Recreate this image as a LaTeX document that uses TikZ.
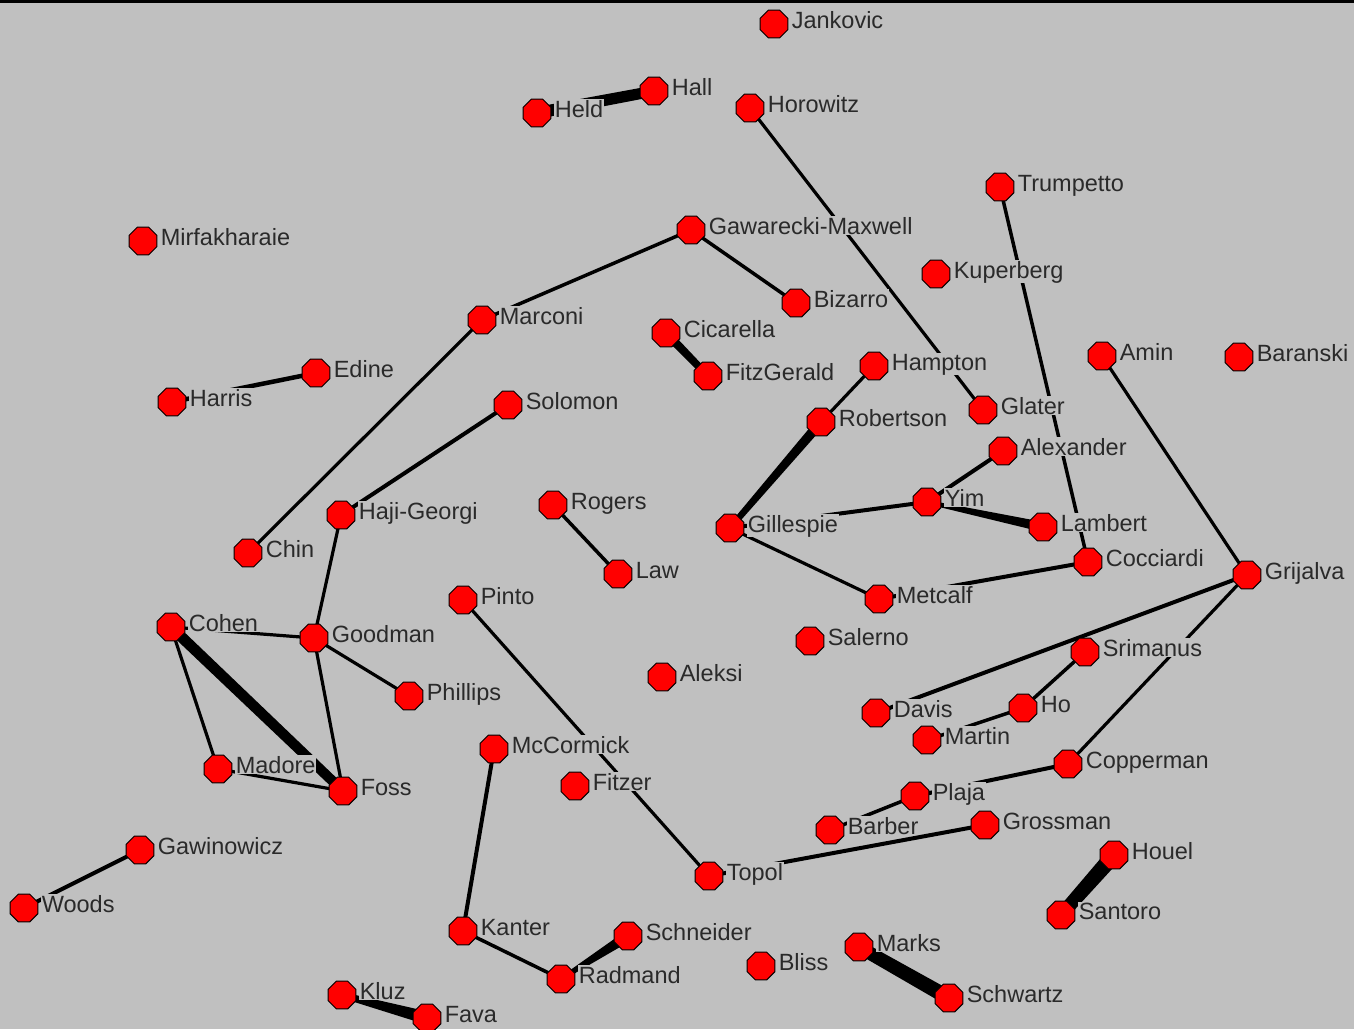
\documentclass[tikz,border=0pt]{standalone}
\usepackage{fontspec}
\setmainfont{Liberation Sans}
\usetikzlibrary{shapes.geometric,calc}
\pgfdeclarelayer{back}
\pgfdeclarelayer{edges}
\pgfsetlayers{back,edges,main}
\definecolor{bggray}{HTML}{C0C0C0}
\definecolor{nodered}{HTML}{FF0000}
\definecolor{txt}{HTML}{2A2A2A}
\tikzset{
  pers/.style={regular polygon, regular polygon sides=8, minimum size=30pt, inner sep=0pt,
    fill=nodered, draw=black, line width=0.9pt},
  lab/.style={anchor=base west, fill=bggray, inner sep=0.6pt, text=txt,
    font=\fontsize{23.5}{26}\selectfont},
  edgeline/.style={draw=black},
}
\newcommand\person[4]{\node[pers] (#1) at (#2,#3) {};
  \node[lab] (#1-t) at ($(#1)+(17,4)$) {#4};}
\newcommand\lnk[3]{\draw[edgeline, line width=#3] (#1.center) -- (#2.center);}
\newcommand\taper[4]{\fill[black] ($(#1)!#3!90:(#2)$) -- ($(#2)!#4!-90:(#1)$) -- ($(#2)!#4!90:(#1)$) -- ($(#1)!#3!-90:(#2)$) -- cycle;}
\begin{document}
\begin{tikzpicture}[x=1pt,y=-1pt]
\useasboundingbox (0,0) rectangle (1354,1029);
\begin{pgfonlayer}{back}
\fill[bggray] (0,0) rectangle (1354,1029);
\fill[black] (0,0) rectangle (1354,3);
\end{pgfonlayer}
% people
\person{Jankovic}{774}{24}{Jankovic}
\person{Held}{537}{113}{Held}
\person{Hall}{654}{91}{Hall}
\person{Horowitz}{750}{108}{Horowitz}
\person{Trumpetto}{1000}{187}{Trumpetto}
\person{Mirfakharaie}{143}{241}{Mirfakharaie}
\person{GM}{691}{230}{Gawarecki-Maxwell}
\person{Kuperberg}{936}{274}{Kuperberg}
\person{Bizarro}{796}{303}{Bizarro}
\person{Marconi}{482}{320}{Marconi}
\person{Cicarella}{666}{333}{Cicarella}
\person{FitzGerald}{708}{376}{FitzGerald}
\person{Hampton}{874}{366}{Hampton}
\person{Amin}{1102}{356}{Amin}
\person{Baranski}{1239}{357}{Baranski}
\person{Edine}{316}{373}{Edine}
\person{Harris}{172}{402}{Harris}
\person{Solomon}{508}{405}{Solomon}
\person{Glater}{983}{410}{Glater}
\person{Robertson}{821}{422}{Robertson}
\person{Alexander}{1003}{451}{Alexander}
\person{Rogers}{553}{505}{Rogers}
\person{Yim}{927}{502}{Yim}
\person{HajiGeorgi}{341}{515}{Haji-Georgi}
\person{Lambert}{1043}{527}{Lambert}
\person{Gillespie}{730}{528}{Gillespie}
\person{Chin}{248}{553}{Chin}
\person{Cocciardi}{1088}{562}{Cocciardi}
\person{Law}{618}{574}{Law}
\person{Grijalva}{1247}{575}{Grijalva}
\person{Metcalf}{879}{599}{Metcalf}
\person{Pinto}{463}{600}{Pinto}
\person{Cohen}{171}{627}{Cohen}
\person{Goodman}{314}{638}{Goodman}
\person{Salerno}{810}{641}{Salerno}
\person{Srimanus}{1085}{652}{Srimanus}
\person{Aleksi}{662}{677}{Aleksi}
\person{Phillips}{409}{696}{Phillips}
\person{Davis}{876}{713}{Davis}
\person{Ho}{1023}{708}{Ho}
\person{Martin}{927}{740}{Martin}
\person{McCormick}{494}{749}{McCormick}
\person{Copperman}{1068}{764}{Copperman}
\person{Madore}{218}{769}{Madore}
\person{Foss}{343}{791}{Foss}
\person{Fitzer}{575}{786}{Fitzer}
\person{Plaja}{915}{796}{Plaja}
\person{Barber}{830}{830}{Barber}
\person{Grossman}{985}{825}{Grossman}
\person{Houel}{1114}{855}{Houel}
\person{Gawinowicz}{140}{850}{Gawinowicz}
\person{Topol}{709}{876}{Topol}
\person{Woods}{24}{908}{Woods}
\person{Santoro}{1061}{915}{Santoro}
\person{Kanter}{463}{931}{Kanter}
\person{Schneider}{628}{936}{Schneider}
\person{Marks}{859}{947}{Marks}
\person{Bliss}{761}{966}{Bliss}
\person{Radmand}{561}{979}{Radmand}
\person{Kluz}{342}{995}{Kluz}
\person{Fava}{427}{1018}{Fava}
\person{Schwartz}{949}{998}{Schwartz}
% connectors
\begin{pgfonlayer}{edges}
\taper{Held}{Hall}{6pt}{5.5pt}
\taper{Cicarella}{FitzGerald}{4.5pt}{3.5pt}
\taper{Robertson}{Gillespie}{5pt}{3pt}
\taper{Yim}{Lambert}{2pt}{5pt}
\taper{Cohen}{Foss}{5.5pt}{5pt}
\taper{Houel}{Santoro}{8pt}{6.5pt}
\taper{Marks}{Schwartz}{6.5pt}{7.5pt}
\taper{Kluz}{Fava}{3pt}{6.5pt}
\taper{Radmand}{Schneider}{2pt}{5.5pt}
\lnk{Horowitz}{Glater}{3.2pt}
\lnk{Trumpetto}{Cocciardi}{3.5pt}
\lnk{GM}{Marconi}{3.5pt}
\lnk{GM}{Bizarro}{3.5pt}
\lnk{Marconi}{Chin}{3.2pt}
\lnk{Hampton}{Robertson}{3.2pt}
\lnk{Edine}{Harris}{4.5pt}
\lnk{Solomon}{HajiGeorgi}{4pt}
\lnk{Alexander}{Yim}{4pt}
\lnk{Gillespie}{Yim}{4pt}
\lnk{Gillespie}{Metcalf}{3.2pt}
\lnk{Metcalf}{Cocciardi}{4pt}
\lnk{Rogers}{Law}{3.5pt}
\lnk{Amin}{Grijalva}{3.2pt}
\lnk{Grijalva}{Davis}{4pt}
\lnk{Grijalva}{Copperman}{3.2pt}
\lnk{Srimanus}{Ho}{3.5pt}
\lnk{Ho}{Martin}{3.5pt}
\lnk{Copperman}{Plaja}{4pt}
\lnk{Plaja}{Barber}{3.5pt}
\lnk{Topol}{Grossman}{4pt}
\lnk{Cohen}{Goodman}{3.2pt}
\lnk{Cohen}{Madore}{3.2pt}
\lnk{Madore}{Foss}{3.2pt}
\lnk{Goodman}{HajiGeorgi}{3.2pt}
\lnk{Goodman}{Phillips}{3.2pt}
\lnk{Goodman}{Foss}{3.2pt}
\lnk{Pinto}{Topol}{3.2pt}
\lnk{McCormick}{Kanter}{4pt}
\lnk{Kanter}{Radmand}{3.5pt}
\lnk{Gawinowicz}{Woods}{4pt}
\end{pgfonlayer}
\end{tikzpicture}
\end{document}
